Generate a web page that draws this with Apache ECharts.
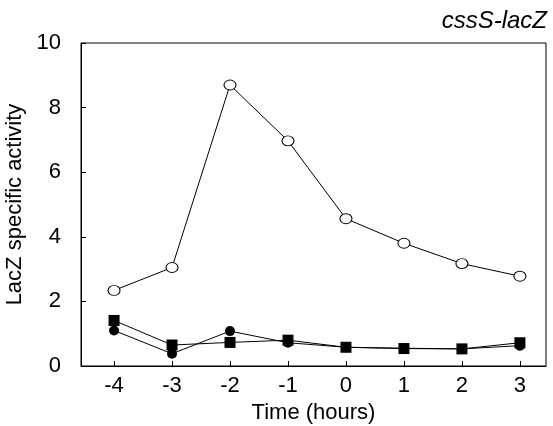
<!DOCTYPE html>
<html>
<head>
<meta charset="utf-8">
<script src="https://cdn.jsdelivr.net/npm/echarts@6/dist/echarts.min.js"></script>
<style>
  html, body { margin: 0; padding: 0; background: #fff; }
  #chart { width: 553px; height: 426px; }
</style>
</head>
<body>
<div id="chart"></div>
<script>
const hours = [-4, -3, -2, -1, 0, 1, 2, 3]

// open circles
const openCircle = [2.34, 3.05, 8.70, 6.97, 4.56, 3.80, 3.17, 2.78]
// filled squares
const filledSquare = [1.41, 0.65, 0.73, 0.80, 0.58, 0.54, 0.53, 0.72]
// filled circles
const filledCircle = [1.10, 0.38, 1.08, 0.72, 0.58, 0.55, 0.53, 0.63]

const FONT = 'Liberation Sans, Arial, sans-serif'

const chart = echarts.init(document.getElementById('chart'), null, { renderer: 'canvas' })

function pairs(vals) {
  return hours.map((h, i) => [h, vals[i]])
}

chart.setOption({
  animation: false,
  backgroundColor: '#fff',
  title: {
    text: 'cssS-lacZ',
    right: 1,
    top: 4,
    textStyle: { fontFamily: FONT, fontSize: 24, fontStyle: 'italic', fontWeight: 'normal', color: '#000' },
  },
  grid: {
    left: 81, right: 7, top: 43, bottom: 60,
    outerBoundsMode: 'none',
    show: true, borderColor: '#000', borderWidth: 1,
  },
  xAxis: {
    type: 'value',
    min: -4.57,
    max: 3.45,
    name: 'Time (hours)',
    nameLocation: 'middle',
    nameGap: 33,
    nameTextStyle: { fontFamily: FONT, fontSize: 22, color: '#000' },
    axisLine: { show: true, onZero: false, lineStyle: { color: '#000' } },
    axisTick: { show: true, inside: true, length: 5, customValues: hours, lineStyle: { color: '#000' } },
    axisLabel: {
      customValues: hours, margin: 9,
      fontFamily: FONT, fontSize: 22, color: '#000',
    },
    splitLine: { show: false },
  },
  yAxis: {
    type: 'value',
    min: 0,
    max: 10,
    interval: 2,
    name: 'LacZ specific activity',
    nameLocation: 'middle',
    nameGap: 43,
    nameTextStyle: { fontFamily: FONT, fontSize: 22, color: '#000' },
    axisLine: { show: true, onZero: false, lineStyle: { color: '#000' } },
    axisTick: { show: true, inside: true, length: 5, lineStyle: { color: '#000' } },
    axisLabel: { margin: 20, fontFamily: FONT, fontSize: 22, color: '#000' },
    splitLine: { show: false },
  },
  series: [
    {
      type: 'line',
      data: pairs(openCircle),
      symbol: 'circle',
      symbolSize: [12, 10],
      lineStyle: { color: '#000', width: 1 },
      itemStyle: { color: '#fff', borderColor: '#000', borderWidth: 1 },
      z: 3,
    },
    {
      type: 'line',
      data: pairs(filledCircle),
      symbol: 'circle',
      symbolSize: 10,
      lineStyle: { color: '#000', width: 1 },
      itemStyle: { color: '#000' },
      z: 4,
    },
    {
      type: 'line',
      data: pairs(filledSquare),
      symbol: 'rect',
      symbolSize: 11,
      lineStyle: { color: '#000', width: 1 },
      itemStyle: { color: '#000' },
      z: 5,
    },
  ],
})
</script>
</body>
</html>
